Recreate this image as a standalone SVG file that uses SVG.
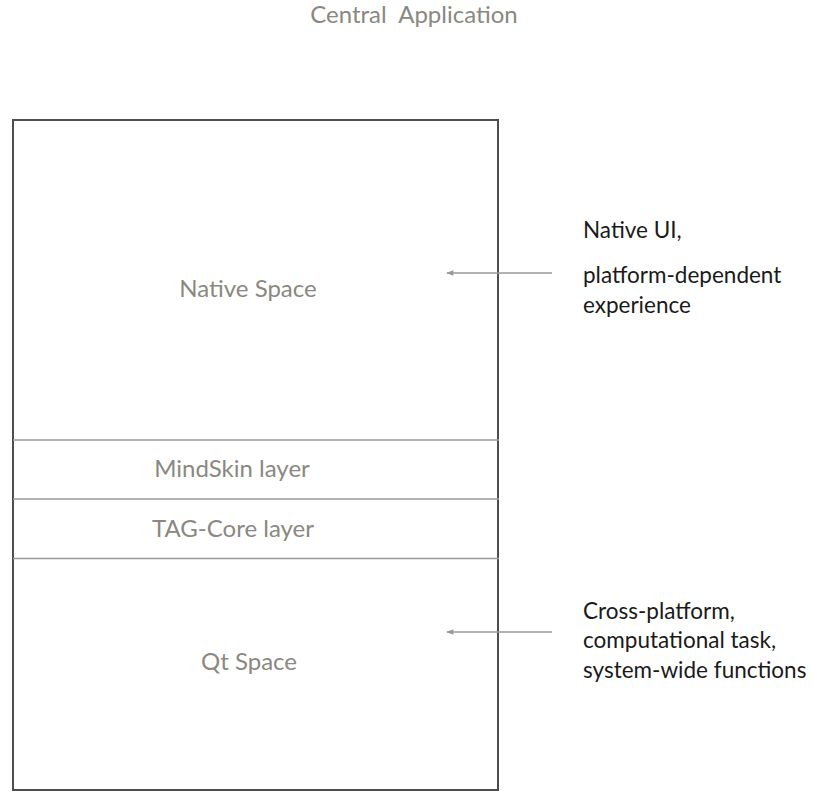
<svg xmlns="http://www.w3.org/2000/svg" width="814" height="798" viewBox="0 0 814 798">
<style>
.g{font-family:Lato,"Noto Sans",sans-serif;font-size:24px;fill:#8a8880;text-anchor:middle}
.d{font-family:Lato,"Noto Sans",sans-serif;font-size:22.5px;fill:#1a1a1a}
.div{stroke:#999;stroke-width:1.5}
.conn{stroke:#999;stroke-width:1.5;fill:none}
</style>
<defs>
<marker id="ah" viewBox="0 0 10 10" refX="9" refY="5" markerWidth="8" markerHeight="7" orient="auto" markerUnits="userSpaceOnUse">
<path d="M0,1 L10,5 L0,9 Z" fill="#999"/>
</marker>
</defs>
<rect width="814" height="798" fill="#fff"/>
<text id="title" class="g" x="414" y="23" xml:space="preserve">Central  Application</text>
<g id="app">
<rect x="13" y="120" width="485" height="670" fill="none" stroke="#4d4d4d" stroke-width="2"/>
</g>
<g id="native-space"><text class="g" x="248" y="297">Native Space</text></g>
<g id="mindskin"><line class="div" x1="13" y1="440" x2="499" y2="440"/><text class="g" x="232" y="477">MindSkin layer</text></g>
<g id="tagcore"><line class="div" x1="13" y1="499" x2="499" y2="499"/><text class="g" x="233" y="537">TAG-Core layer</text></g>
<g id="qt-space"><line class="div" x1="13" y1="558.5" x2="499" y2="558.5"/><text class="g" x="249" y="670">Qt Space</text></g>
<g id="native-note"><text class="d" x="583" y="238">Native UI,</text><text class="d" x="583" y="283">platform-dependent</text><text class="d" x="583" y="313">experience</text></g>
<g id="qt-note"><text class="d" x="583" y="619">Cross-platform,</text><text class="d" x="583" y="648">computational task,</text><text class="d" x="583" y="678">system-wide functions</text></g>
<g id="connectors">
<line class="conn" x1="552" y1="273" x2="447" y2="273" marker-end="url(#ah)"/>
<line class="conn" x1="552" y1="632" x2="447" y2="632" marker-end="url(#ah)"/>
</g>
</svg>
